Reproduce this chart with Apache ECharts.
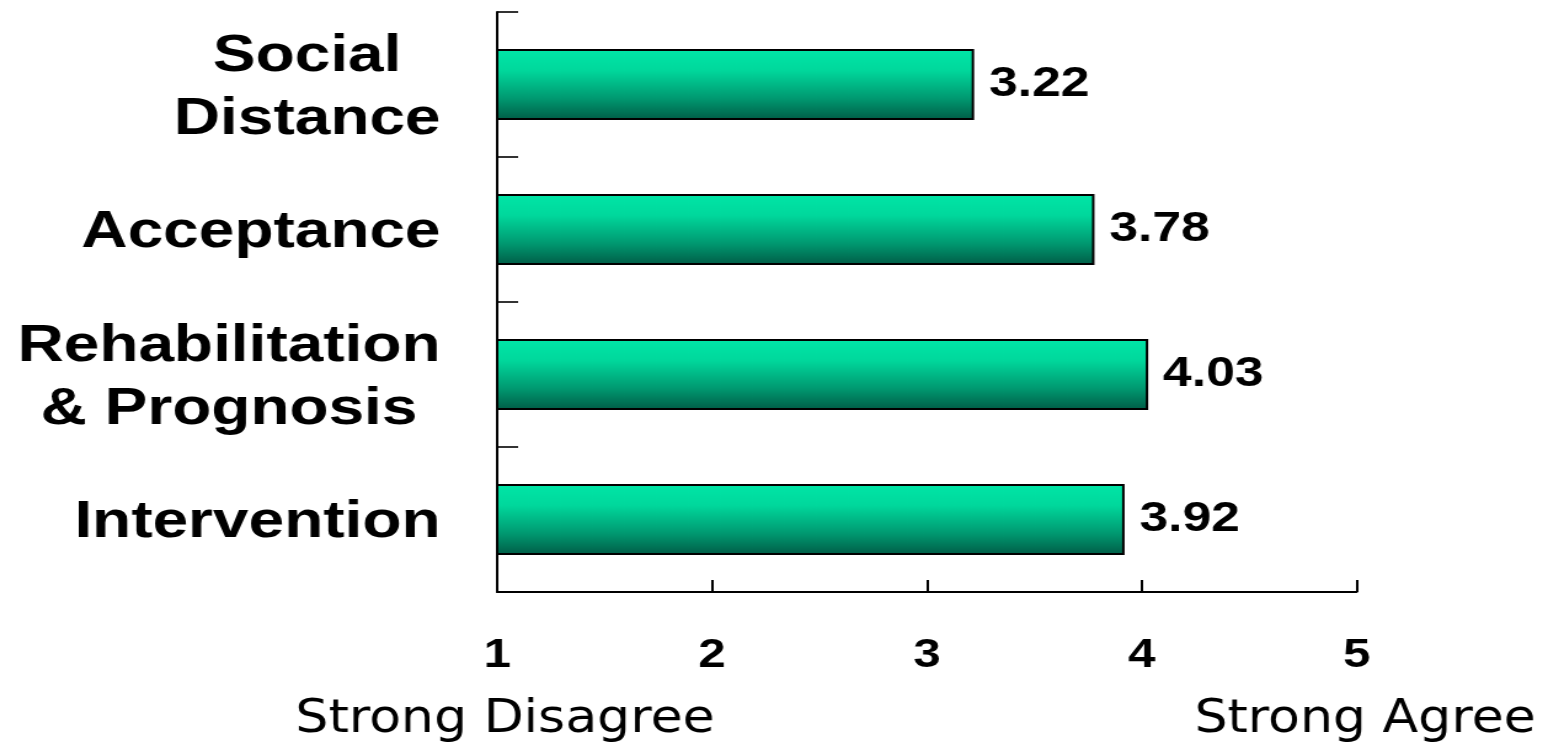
<!DOCTYPE html>
<html>
<head>
<meta charset="utf-8">
<script src="https://cdn.jsdelivr.net/npm/echarts@6/dist/echarts.min.js"></script>
<style>
html,body{margin:0;padding:0;background:#fff;overflow:hidden}
#wrap{width:1543px;height:750px;overflow:hidden;position:relative}
#chart{width:1254px;height:750px;transform:scaleX(1.2305);transform-origin:0 0}
</style>
</head>
<body>
<div id="wrap"><div id="chart"></div></div>
<script>
const categories = ['Social\nDistance', 'Acceptance', 'Rehabilitation\n& Prognosis', 'Intervention'];
const values = [3.22, 3.78, 4.03, 3.92];
const xTicks = [1, 2, 3, 4, 5];
const scaleCaptions = ['Strong Disagree', 'Strong Agree'];

const chart = echarts.init(document.getElementById('chart'));
const FONT = '"Liberation Sans", Arial, Helvetica, sans-serif';
const CAP_FONT = '46px "DejaVu Sans", Verdana, sans-serif';

chart.setOption({
  animation: false,
  backgroundColor: '#ffffff',
  grid: { left: 404, right: 151.5, top: 12, bottom: 158, containLabel: false },
  xAxis: {
    type: 'value',
    min: xTicks[0],
    max: xTicks[xTicks.length - 1],
    interval: 1,
    splitLine: { show: false },
    axisLine: { show: true, lineStyle: { color: '#000', width: 2 } },
    axisTick: { show: true, inside: true, length: 12, lineStyle: { color: '#000', width: 2 } },
    axisLabel: {
      show: true, margin: 44, color: '#000', fontFamily: FONT, fontWeight: 'bold', fontSize: 40,
      showMinLabel: true, showMaxLabel: true
    }
  },
  yAxis: {
    type: 'category',
    data: categories,
    inverse: true,
    boundaryGap: true,
    axisLine: { show: true, lineStyle: { color: '#000', width: 2 } },
    axisTick: { show: true, inside: true, length: 17, lineStyle: { color: '#000', width: 1.6 } },
    splitLine: { show: false },
    axisLabel: {
      margin: 46,
      align: 'right',
      padding: [7, 0, 0, 0],
      formatter: function (v) { return v.split('\n').map(s => '{c|' + s + '}').join('\n'); },
      rich: {
        c: { fontFamily: FONT, fontWeight: 'bold', fontSize: 52, lineHeight: 63, color: '#000', align: 'center' }
      }
    }
  },
  series: [{
    type: 'bar',
    data: values,
    barWidth: 71,
    itemStyle: {
      color: {
        type: 'linear', x: 0, y: 0, x2: 0, y2: 1,
        colorStops: [
          { offset: 0, color: '#00E6A7' },
          { offset: 0.3, color: '#00D89C' },
          { offset: 0.7, color: '#009870' },
          { offset: 1, color: '#005C46' }
        ]
      },
      borderColor: '#000',
      borderWidth: 2
    },
    label: {
      show: true,
      position: 'right',
      distance: 12,
      color: '#000',
      fontFamily: FONT,
      fontWeight: 'bold',
      fontSize: 42,
      padding: [4, 0, 0, 0],
      formatter: p => p.value.toFixed(2)
    }
  }],
  graphic: [
    { type: 'text', x: 410.4, y: 720, scaleX: 0.92,
      style: { text: scaleCaptions[0], font: CAP_FONT, fill: '#000', textAlign: 'center', textVerticalAlign: 'middle' } },
    { type: 'text', x: 1109.3, y: 720, scaleX: 0.92,
      style: { text: scaleCaptions[1], font: CAP_FONT, fill: '#000', textAlign: 'center', textVerticalAlign: 'middle' } }
  ]
});
</script>
</body>
</html>
